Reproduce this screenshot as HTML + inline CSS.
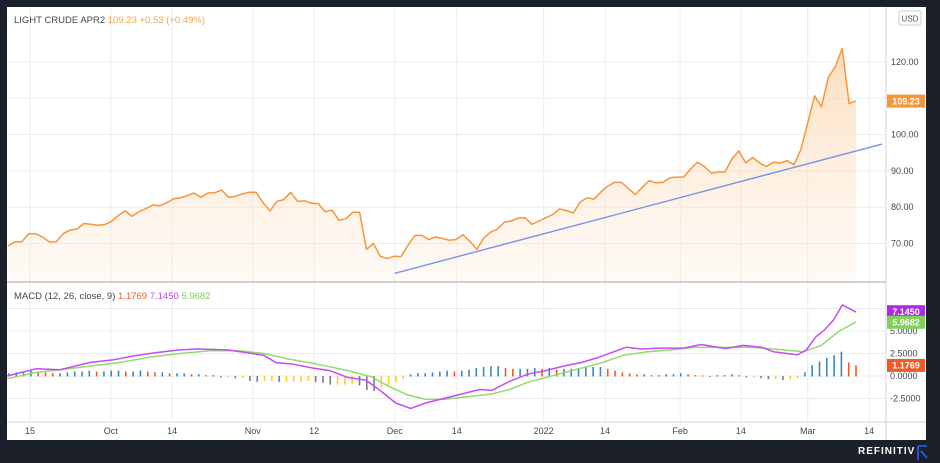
<!DOCTYPE html>
<html><head><meta charset="utf-8"><style>
html,body{margin:0;padding:0;background:#1c202b;}
svg{display:block;font-family:"Liberation Sans",sans-serif;}
</style></head><body>
<svg id="chart" width="940" height="463" viewBox="0 0 940 463">
<defs><linearGradient id="fillg" x1="0" y1="0" x2="0" y2="1"><stop offset="0" stop-color="#fbd3a8" stop-opacity="0.75"/><stop offset="1" stop-color="#fde9d6" stop-opacity="0.25"/></linearGradient></defs>
<rect x="0" y="0" width="940" height="463" fill="#1c202b"/>
<rect x="7" y="7" width="919" height="433" fill="#ffffff"/>
<g id="grid"></g><g id="price"></g><g id="macd"></g><g id="axes"></g>
<text x="14" y="23" font-size="9.5" fill="#434651">LIGHT CRUDE APR2 <tspan fill="#f7a14a">109.23  +0.53 (+0.49%)</tspan></text>
<text x="14" y="299" font-size="9.5" fill="#434651">MACD (12, 26, close, 9) <tspan fill="#f05a28">1.1769</tspan> <tspan fill="#c44bf5">7.1450</tspan> <tspan fill="#7fd15a">5.9682</tspan></text>
<rect x="899" y="11" width="22" height="14" rx="2" fill="#fff" stroke="#ccc"/>
<text x="910" y="21.5" font-size="8" fill="#555" text-anchor="middle">USD</text>
<text x="858" y="454" font-size="10" font-weight="bold" fill="#fff" letter-spacing="1">REFINITIV</text>
<path d="M918 446 h9 M918 446 v14 M921 451 l6 7" stroke="#2962ff" stroke-width="1.6" fill="none"/>
</svg>
<script>
const price=[69.3,70.5,70.5,72.7,72.7,71.8,70.4,70.5,72.7,73.7,74,75.5,75.3,75,75.2,76.1,77.7,79,77.5,78.8,79.6,80.6,80.4,81.2,82.3,82.6,83.2,83.9,82.7,83.9,84,84.7,82.7,83,83.7,84.1,84.1,81.2,79,81.6,82.1,84.1,81.6,81.8,81.1,81,78.8,79.2,76.4,76.8,78.6,78.6,68.4,70,66.5,65.8,66.5,66.4,69.5,72.2,72.3,71.1,71.8,71.4,70.9,71.1,72.4,70.6,68.4,71.5,73.1,74,75.9,76.2,77,77.1,75.3,76.2,77.1,78,79.5,79.1,78.4,81.4,82.6,82.2,84.2,85.8,86.9,86.8,85.1,83.5,85.5,87.3,86.7,86.9,88.1,88.3,88.3,90.5,92.4,91.2,89.4,89.7,89.7,93.3,95.5,92.2,93.7,92.2,91.2,92.4,92.2,92.8,91.7,95.8,103.2,110.7,107.7,115.8,118.7,123.7,108.6,109.23];
const macdLine=[0,0.8,0.7,1.5,1.8,2.2,2.6,2.9,3.0,2.9,2.5,2.3,1.5,1.3,0.9,0.6,-0.15,-0.45,-1.4,-3.0,-3.6,-3.0,-2.5,-2.0,-1.5,-1.6,-0.6,0.2,0.6,1.1,1.5,2.1,2.6,3.2,3.0,3.1,3.1,3.5,3.05,3.4,3.2,2.7,2.35,2.9,4.3,5.1,6.2,7.9,7.1];
const macdPos=[12,60,100,150,190,220,260,300,330,380,420,440,460,490,520,550,580,610,630,660,685,710,740,770,800,820,850,880,910,940,970,1000,1020,1045,1070,1100,1140,1170,1210,1240,1270,1290,1330,1345,1360,1375,1390,1405,1428];
const signalLine=[-0.3,0.4,0.7,1.1,1.5,2.1,2.5,2.8,2.8,2.5,1.9,1.3,0.6,-0.1,-1.2,-2.1,-2.6,-2.6,-2.3,-2.0,-1.5,-0.7,0,0.7,1.4,2.3,2.7,2.9,3.2,3.2,3.2,3.0,2.7,3.4,5.0,6.0];
const signalPos=[12,60,100,150,200,250,300,350,400,440,480,530,580,620,650,680,710,740,780,820,850,880,920,960,1000,1040,1080,1120,1160,1200,1250,1290,1340,1370,1400,1428];
const hist=[0.3,0.4,0.5,0.6,0.5,0.4,0.3,0.3,0.4,0.5,0.5,0.6,0.5,0.5,0.6,0.6,0.5,0.5,0.6,0.5,0.4,0.4,0.3,0.3,0.3,0.2,0.2,0.1,0.1,-0.1,-0.1,-0.2,-0.2,-0.5,-0.6,-0.5,-0.5,-0.6,-0.6,-0.6,-0.6,-0.5,-0.6,-0.7,-0.9,-0.9,-0.9,-0.8,-1.0,-1.5,-1.6,-1.3,-1.0,-0.6,-0.3,0.2,0.3,0.3,0.4,0.5,0.6,0.5,0.6,0.7,0.9,1.0,1.1,1.1,0.9,0.8,0.8,0.8,0.9,0.8,0.9,0.7,0.8,0.8,0.9,1.0,1.0,1.0,0.8,0.6,0.4,0.3,0.2,0.2,0.1,0.1,0.2,0.2,0.3,0.2,0.1,0.05,-0.05,0.1,0.1,0.2,0.1,-0.1,-0.1,-0.2,-0.3,-0.3,-0.4,-0.3,-0.2,0.4,1.2,1.6,2.0,2.3,2.7,1.5,1.2];
const trend=[56.1,61.8,126.8,97.4];
const priceTicks=[70,80,90,100,120];
const priceTickLabels=["70.00","80.00","90.00","100.00","120.00"];
const macdTicks=[-2.5,0,2.5,5];
const macdTickLabels=["-2.5000","0.0000","2.5000","5.0000"];
const xTickIdx=[3.2,14.9,23.8,35.5,44.4,56.1,65.1,77.7,86.6,97.5,106.3,116.0,124.9];
const xTickLabels=["15","Oct","14","Nov","12","Dec","14","2022","14","Feb","14","Mar","14"];
const lastPrice=109.23, lastMacd=7.1450, lastSignal=5.9682, lastHist=1.1769;

const NS="http://www.w3.org/2000/svg";
const X0=8,X1=856;
const xI=i=>X0+i*(X1-X0)/(price.length-1);
const xZ=z=>z/1.668;
const yP=v=>62+(120-v)*3.63;
const yM=v=>376-v*9.0;
function mk(tag,attrs,parent){const e=document.createElementNS(NS,tag);for(const k in attrs)e.setAttribute(k,attrs[k]);parent.appendChild(e);return e;}
const G=document.getElementById('grid'),P=document.getElementById('price'),M=document.getElementById('macd'),A=document.getElementById('axes');

// grid
xTickIdx.forEach((t,i)=>{const x=xI(t);
 let l=mk('line',{x1:x,x2:x,y1:7,y2:422,stroke:'#ececec','stroke-width':1},G);
 
 
 let tx=mk('text',{x:x,y:434,'font-size':9,fill:'#434651','text-anchor':'middle'},A);
 tx.textContent=xTickLabels[i];
 
 
});
priceTicks.concat([110]).forEach(v=>{let l=mk('line',{x1:7,x2:886,y1:yP(v),y2:yP(v),stroke:'#ececec'},G);
 
 });
priceTicks.forEach((v,i)=>{let t=mk('text',{x:891,y:yP(v)+3,'font-size':9,fill:'#434651'},A);t.textContent=priceTickLabels[i];
 
 });
[-2.5,0,2.5,5,7.5].forEach(v=>{let l=mk('line',{x1:7,x2:886,y1:yM(v),y2:yM(v),stroke:'#ececec'},G);
 
 });
macdTicks.forEach((v,i)=>{let t=mk('text',{x:890,y:yM(v)+3,'font-size':9,fill:'#434651'},A);t.textContent=macdTickLabels[i];
 
 });
[[7,282,886,282,'#d0d0d0',2],[7,422,926,422,'#d6d6d6',1],[886,7,886,440,'#d6d6d6',1]].forEach(a=>{let l=mk('line',{x1:a[0],y1:a[1],x2:a[2],y2:a[3],stroke:a[4],'stroke-width':a[5]},A);
 
 });

// price
let d=price.map((v,i)=>(i?'L':'M')+xI(i).toFixed(1)+' '+yP(v).toFixed(1)).join(' ');
let area=mk('path',{d:d+` L${xI(price.length-1)} 281 L${X0} 281 Z`,fill:'url(#fillg)'},P);


let tl=mk('line',{x1:xI(trend[0]),y1:yP(trend[1]),x2:xI(trend[2]),y2:yP(trend[3]),stroke:'#7b93e8','stroke-width':1.4},P);


let pl=mk('path',{d:d,fill:'none',stroke:'#f7953a','stroke-width':1.5,'stroke-linejoin':'round'},P);


function badge(y,txt,col,name){let r=mk('rect',{x:887,y:y-6.5,width:38,height:13,fill:col},A);
 
 
 let t=mk('text',{x:906,y:y+3.2,'font-size':9,fill:'#fff','text-anchor':'middle','font-weight':'bold'},A);t.textContent=txt;
 
 }
badge(yP(lastPrice),lastPrice.toFixed(2),'#f7953a','last-price-badge');

// macd histogram
const hStep=(X1-9)/(hist.length-1);
hist.forEach((v,i)=>{const prev=i?hist[i-1]:v;let c;
 if(v>=0)c=(v>=prev)?'#3d85c6':'#f05a28';else c=(v>=prev)?'#f7d02c':'#787b86';
 const x=9+i*hStep;
 let r=mk('rect',{x:x-0.8,y:Math.min(yM(0),yM(v)),width:1.6,height:Math.abs(yM(v)-yM(0))+0.5,fill:c},M);
 
 });
function line(vals,pos,col,name){let l=mk('path',{d:vals.map((v,i)=>(i?'L':'M')+xZ(pos[i]).toFixed(1)+' '+yM(v).toFixed(1)).join(' '),fill:'none',stroke:col,'stroke-width':1.5,'stroke-linejoin':'round'},M);
 
 }
line(signalLine,signalPos,'#8fdc6c','signal-line');
line(macdLine,macdPos,'#c44bf5','macd-line');
badge(yM(lastMacd),lastMacd.toFixed(4),'#b128e6','macd-badge');
badge(yM(lastSignal),lastSignal.toFixed(4),'#7fd15a','signal-badge');
badge(yM(lastHist),lastHist.toFixed(4),'#f05a28','histogram-badge');
</script>
</body></html>
